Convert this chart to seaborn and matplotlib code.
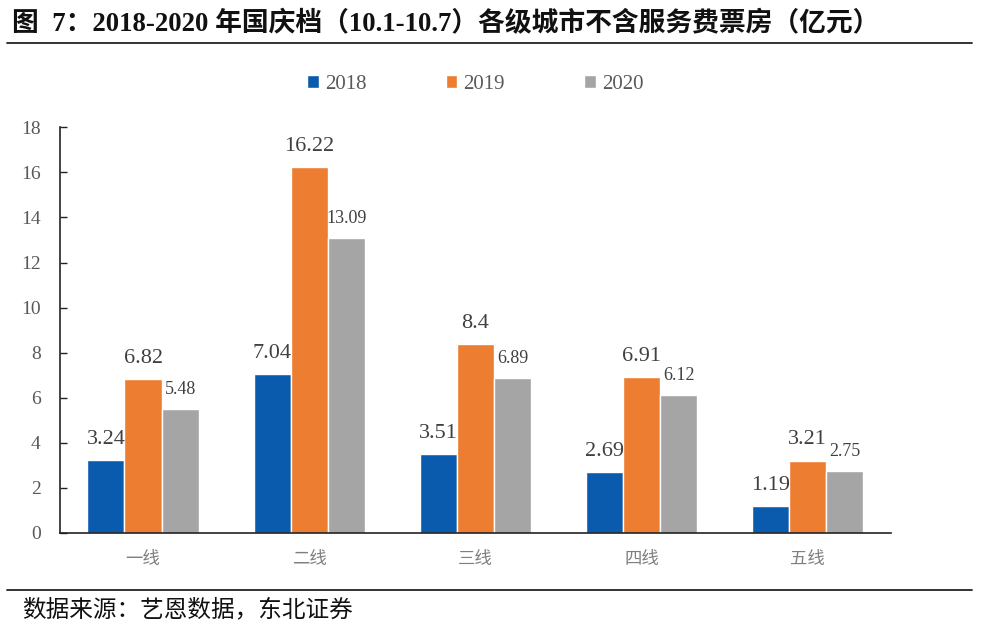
import matplotlib
matplotlib.use("Agg")
import matplotlib.pyplot as plt
import seaborn as sns
import pandas as pd
import numpy as np

categories = ["一线", "二线", "三线", "四线", "五线"]
years = ["2018", "2019", "2020"]
v2018 = [3.24, 7.04, 3.51, 2.69, 1.19]
v2019 = [6.82, 16.22, 8.4, 6.91, 3.21]
v2020 = [5.48, 13.09, 6.89, 6.12, 2.75]
yticks = [0, 2, 4, 6, 8, 10, 12, 14, 16, 18]
title = "图  7：2018-2020 年国庆档（10.1-10.7）各级城市不含服务费票房（亿元）"
source = "数据来源：艺恩数据，东北证券"
colors = ["#0A5BAD", "#ED7D31", "#A5A5A5"]

sns.set_theme(style="white")
plt.rcParams['font.family'] = ['Liberation Serif', 'Noto Sans CJK SC', 'DejaVu Sans']

df = pd.DataFrame({
    "cat": categories * 3,
    "year": sum([[y] * 5 for y in years], []),
    "val": v2018 + v2019 + v2020,
})

fig = plt.figure(figsize=(9.83, 6.27), dpi=100)
ax = fig.add_axes([0.061, 0.150, 0.845, 0.647])
sns.barplot(data=df, x="cat", y="val", hue="year", palette=colors,
            width=0.67, saturation=1, ax=ax, legend=True, errorbar=None)

ax.set_ylim(0, 18)
ax.set_xlim(-0.5, 4.5)
ax.set_yticks(yticks)
ax.set_yticklabels([str(t) for t in yticks], fontsize=14, color="#595959",
                   family=['Liberation Serif'])
ax.tick_params(axis='y', direction='in', length=5, width=1, color="#222222", pad=14, left=True)
ax.tick_params(axis='x', length=0, pad=12)
for lab in ax.get_xticklabels():
    lab.set_fontsize(12.5)
    lab.set_color("#7F7F7F")
    lab.set_family(['Noto Sans CJK SC'])
    lab.set_fontweight('light')
ax.set_xlabel("")
ax.set_ylabel("")
for s in ["top", "right"]:
    ax.spines[s].set_visible(False)
ax.spines["left"].set_color("#222222")
ax.spines["bottom"].set_color("#222222")
ax.spines["left"].set_linewidth(1.2)
ax.spines["bottom"].set_linewidth(1.2)

sizes = [16, 16, 13]
for i, cont in enumerate(ax.containers):
    ax.bar_label(cont, labels=[f"{v:g}" for v in cont.datavalues], padding=8,
                 fontsize=sizes[i], color="#404040", family=['Liberation Serif'])

leg = ax.legend(loc="upper center", bbox_to_anchor=(0.5, 1.175), ncol=3, frameon=False,
                fontsize=15, handlelength=0.55, handleheight=0.55, handletextpad=0.3,
                columnspacing=3.8)
for t in leg.get_texts():
    t.set_color("#595959")

fig.text(0.012, 0.962, title, fontsize=19.3, fontweight='bold', va='center', ha='left',
         family=['Liberation Serif', 'Noto Sans CJK SC'], color="#111111")
fig.add_artist(plt.Line2D([0.007, 0.989], [0.931, 0.931], color="#222222", lw=1.3,
                          transform=fig.transFigure))
fig.add_artist(plt.Line2D([0.007, 0.989], [0.059, 0.059], color="#222222", lw=1.3,
                          transform=fig.transFigure))
fig.text(0.022, 0.027, source, fontsize=17, va='center', ha='left',
         family=['Noto Sans CJK SC'], color="#111111")

fig.savefig("out.png", dpi=100)
